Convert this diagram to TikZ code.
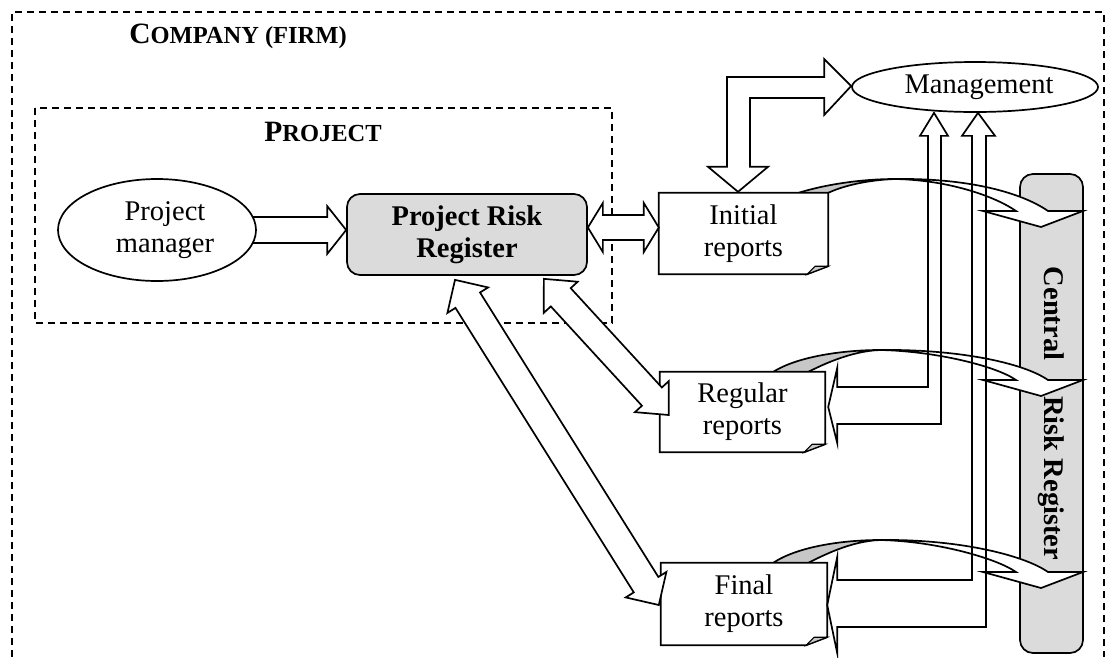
\documentclass[tikz,border=0pt]{standalone}
\usepackage{fontspec}
\setmainfont{Liberation Serif}
\usetikzlibrary{calc,shapes.geometric}
\definecolor{regfill}{gray}{0.86}
\definecolor{foldgray}{gray}{0.78}
\pgfdeclarelayer{bg}
\pgfdeclarelayer{rib}
\pgfsetlayers{bg,rib,main}
\newcommand\blkarrow[5]{%
  \path (#1) coordinate (qa) (#2) coordinate (qb);
  \path ($(qb)!#5!(qa)$) coordinate (qb1);
  \draw[blk] ($(qa)!#3!90:(qb)$) -- ($(qb1)!#3!-90:(qa)$) -- ($(qb1)!#4!-90:(qa)$) -- (qb)
    -- ($(qb1)!#4!90:(qa)$) -- ($(qb1)!#3!90:(qa)$) -- ($(qa)!#3!-90:(qb)$) -- cycle;
}
\newcommand\dblarrow[5]{%
  \path (#1) coordinate (qa) (#2) coordinate (qb);
  \path ($(qa)!#5!(qb)$) coordinate (qa1) ($(qb)!#5!(qa)$) coordinate (qb1);
  \draw[blk] (qa) -- ($(qa1)!#4!90:(qb)$) -- ($(qa1)!#3!90:(qb)$) -- ($(qb1)!#3!-90:(qa)$)
    -- ($(qb1)!#4!-90:(qa)$) -- (qb) -- ($(qb1)!#4!90:(qa)$) -- ($(qb1)!#3!90:(qa)$)
    -- ($(qa1)!#3!-90:(qb)$) -- ($(qa1)!#4!-90:(qb)$) -- cycle;
}
\newcommand\docbox[1]{%
  \filldraw[lw, fill=white, line join=miter] (#1.north west) -- (#1.north east) -- ($(#1.south east)+(0,-8)$)
    -- ($(#1.south east)+(-21,0)$) -- (#1.south west) -- cycle;
  \filldraw[line width=1.1pt, fill=foldgray] ($(#1.south east)+(-21,0)$) -- ($(#1.south east)+(-13,-8)$)
    -- ($(#1.south east)+(0,-8)$) -- cycle;
}
% #1 s1x, #2 s2x, #3 box top y, #4 twist x, #5 peak y, #6 head base y
\newcommand\ribbon[6]{%
  \filldraw[lw, fill=foldgray] (#1,{#3+4}) -- (#1,#3) .. controls ({#1+25},{#5+6}) and ({#4-35},#5) .. (#4,#5)
    .. controls ({#4-30},{#5+1}) and ({#2+12},{#3-6}) .. (#2,#3) -- (#2,{#3+4}) -- cycle;
  \filldraw[lw, fill=white] (#4,#5) .. controls ({#4+75},{#5-1}) and (1022,{#6-18}) .. (1048,#6)
    -- (1083,#6) -- (1041,{#6+16}) -- (983,#6) -- (1016,#6)
    .. controls (996,{#6-14}) and ({#4+55},{#5+1}) .. (#4,#5) -- cycle;
}
\begin{document}
\begin{tikzpicture}[x=1pt,y=-1pt,
  every node/.style={font=\fontsize{28.5}{32}\selectfont, inner sep=0pt},
  lw/.style={line width=1.7pt},
  blk/.style={lw, fill=white, line join=miter},
  thin arrow/.style={lw, line join=miter},
  dash box/.style={line width=1.4pt, dash pattern=on 7pt off 5pt},
  boldtext/.style={font=\fontsize{28.5}{32}\selectfont\bfseries},
]
\useasboundingbox (0,0) rectangle (1110,657);

% frames
\begin{pgfonlayer}{bg}
\draw[dash box] (12,657) -- (12,12) -- (1104,12) -- (1104,657);
\draw[dash box] (35,108) rectangle (612,323);
\node[draw, lw, fill=regfill, rounded corners=13pt, rotate=-90, minimum width=479pt,
  minimum height=63pt, boldtext] (crr) at (1051.5,413.5) {Central\hskip 36pt Risk Register};
\end{pgfonlayer}

\node[anchor=base, font=\fontsize{29.5}{30}\selectfont\bfseries] (company) at (238,43)
  {C{\fontsize{24.5}{30}\selectfont OMPANY (FIRM)}};
\node[anchor=base, font=\fontsize{29.5}{30}\selectfont\bfseries] (project) at (323,141)
  {P{\fontsize{24.5}{30}\selectfont ROJECT}};

% nodes
\node[ellipse, draw, lw, fill=white, minimum width=198pt, minimum height=102pt, align=center]
  (pm) at (157,230) {\hspace*{16pt}Project\\\hspace*{16pt}manager};
\node[draw, lw, fill=regfill, rounded corners=13pt, minimum width=240pt, minimum height=81pt,
  align=center, boldtext] (prr) at (467,234.5) {Project Risk\\Register};
\node[ellipse, draw, lw, fill=white, minimum width=246pt, minimum height=50pt]
  (mgmt) at (975,87) {\hspace*{8pt}Management};
\node[minimum width=169pt, minimum height=81pt, align=center] (ini) at (743.5,233.5) {Initial\\reports};
\node[minimum width=165pt, minimum height=80pt, align=center] (reg) at (742.5,412) {Regular\\reports};
\node[minimum width=166pt, minimum height=82pt, align=center] (fin) at (744,604) {Final\\reports};

% ribbons to the central register, report outlines
\begin{pgfonlayer}{rib}
\ribbon{798}{828}{193}{895}{179}{211}
\ribbon{773}{808}{372}{880}{350}{380}
\ribbon{773}{808}{563}{880}{540}{572}
\docbox{ini}
\docbox{reg}
\docbox{fin}
\blkarrow{$(pm.east)+(-8,0)$}{$(prr.west)+(0,-4.5)$}{13pt}{24pt}{19pt}
\end{pgfonlayer}

% reports -> management (outlined bent arrows)
\path ($(reg.east)+(3,-5)$) coordinate (rR) ($(mgmt.south)+(-41,0)$) coordinate (rM);
\draw[thin arrow] (rR) -- ($(rR)+(9,-39)$) -- ($(rR)+(9,-20)$) -- ($(rM|-rR)+(-6,-20)$)
  -- ($(rM)+(-6,23)$) -- ($(rM)+(-14,23)$) -- (rM) -- ($(rM)+(14,23)$) -- ($(rM)+(7,23)$)
  -- ($(rM|-rR)+(7,17)$) -- ($(rR)+(9,17)$) -- ($(rR)+(9,36)$) -- cycle;
\path ($(fin.east)+(0,1)$) coordinate (fF) ($(mgmt.south)+(3,0)$) coordinate (fM);
\draw[thin arrow] (fF) -- ($(fF)+(10,-48)$) -- ($(fF)+(10,-25)$) -- ($(fM|-fF)+(-6,-25)$)
  -- ($(fM)+(-6,23)$) -- ($(fM)+(-16,23)$) -- (fM) -- ($(fM)+(17,23)$) -- ($(fM)+(8,23)$)
  -- ($(fM|-fF)+(8,22)$) -- ($(fF)+(10,22)$) -- ($(fF)+(10,48)$) -- cycle;

% initial reports <-> management
\path ($(ini.north)+(-5.5,-1)$) coordinate (iT) ($(mgmt.west)+(0,-1)$) coordinate (iM);
\draw[blk] (iT) -- ($(iT)+(30,-25)$) -- ($(iT)+(12,-25)$) -- ($(iT|-iM)+(12,12)$) -- ($(iM)+(-27,12)$)
  -- ($(iM)+(-27,29)$) -- (iM) -- ($(iM)+(-27,-27)$) -- ($(iM)+(-27,-9)$) -- ($(iT|-iM)+(-11,-9)$)
  -- ($(iT)+(-11,-25)$) -- ($(iT)+(-30,-25)$) -- cycle;

% register <-> reports
\dblarrow{$(prr.east)+(0,-7)$}{$(ini.west)+(0,-6)$}{12.5pt}{24.5pt}{15pt}
\dblarrow{$(prr.south east)+(-44,3)$}{$(reg.west)+(9,3)$}{13.5pt}{23pt}{25pt}
\dblarrow{$(prr.south)+(-12,4)$}{$(fin.west)+(-2,1)$}{14.5pt}{24pt}{24pt}
\end{tikzpicture}
\end{document}
